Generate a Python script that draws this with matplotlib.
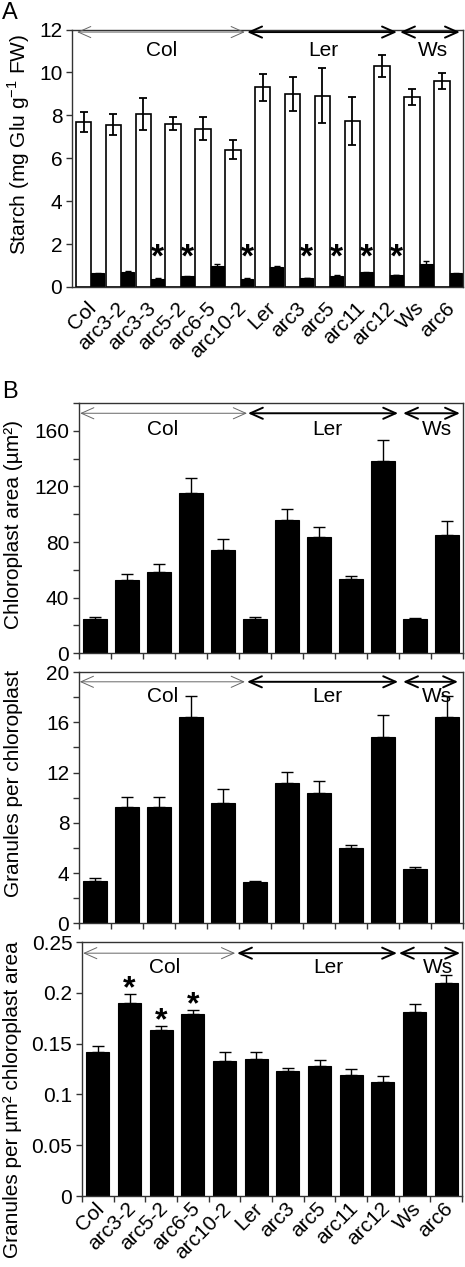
import matplotlib
matplotlib.use('Agg')
import matplotlib.pyplot as plt
import numpy as np
from matplotlib.ticker import MultipleLocator, FuncFormatter

plt.rcParams['font.family'] = ['Liberation Sans', 'DejaVu Sans']
plt.rcParams['mathtext.fontset'] = 'custom'
plt.rcParams['mathtext.rm'] = 'Liberation Sans'

# panel A: starch, end of day (white) and end of night (black)
lines_a = ['Col', 'arc3-2', 'arc3-3', 'arc5-2', 'arc6-5', 'arc10-2', 'Ler',
           'arc3', 'arc5', 'arc11', 'arc12', 'Ws', 'arc6']
starch_day = [7.70, 7.57, 8.08, 7.60, 7.37, 6.40, 9.30, 8.98, 8.92, 7.73, 10.29, 8.85, 9.62]
starch_day_err = [0.47, 0.50, 0.75, 0.30, 0.54, 0.44, 0.64, 0.80, 1.30, 1.13, 0.50, 0.36, 0.37]
starch_night = [0.63, 0.71, 0.38, 0.50, 0.96, 0.38, 0.95, 0.42, 0.53, 0.68, 0.56, 1.08, 0.64]
starch_night_err = [0.03, 0.03, 0.02, 0.02, 0.12, 0.02, 0.03, 0.02, 0.03, 0.04, 0.02, 0.12, 0.03]
stars_a = ['arc3-3', 'arc5-2', 'arc10-2', 'arc3', 'arc5', 'arc11', 'arc12']

# panel B
lines_b = ['Col', 'arc3-2', 'arc5-2', 'arc6-5', 'arc10-2', 'Ler',
           'arc3', 'arc5', 'arc11', 'arc12', 'Ws', 'arc6']
area = [24.8, 52.4, 58.8, 115.5, 74.5, 24.8, 96.0, 83.8, 53.3, 138.6, 24.8, 84.8]
area_err = [1.5, 4.5, 5.5, 10.7, 7.6, 1.5, 8.0, 7.0, 2.4, 14.5, 0.8, 10.0]
granules = [3.40, 9.28, 9.28, 16.4, 9.60, 3.32, 11.14, 10.40, 5.97, 14.85, 4.32, 16.4]
granules_err = [0.20, 0.80, 0.80, 1.67, 1.10, 0.05, 0.90, 0.95, 0.30, 1.75, 0.18, 1.70]
density = [0.1416, 0.1895, 0.1630, 0.1787, 0.1328, 0.1350, 0.1226, 0.1275, 0.1187, 0.1125, 0.1810, 0.2098]
density_err = [0.0060, 0.0095, 0.0045, 0.0043, 0.0085, 0.0063, 0.0034, 0.0063, 0.0059, 0.0059, 0.0080, 0.0076]
stars_b = ['arc3-2', 'arc5-2', 'arc6-5']

group_names = ['Col', 'Ler', 'Ws']

fig = plt.figure(figsize=(4.65, 12.67), dpi=100)
W, H = 465.0, 1267.0
TICK = 15
LABEL = 15
XLAB = 15


def add_ax(left, top, right, bottom):
    return fig.add_axes([left / W, 1 - bottom / H, (right - left) / W, (bottom - top) / H])


def frame(ax):
    for s in ax.spines.values():
        s.set_color('#333333')
        s.set_linewidth(1.0)
    ax.tick_params(axis='y', direction='out', length=4, width=1, labelsize=TICK,
                   color='#333333', pad=3)


def group_arrows(ax, spans, y_arrow, y_text, text_x):
    for i, (x0, x1) in enumerate(spans):
        thin = i == 0
        ax.annotate('', xy=(x0, y_arrow), xytext=(x1, y_arrow), xycoords='axes fraction',
                    arrowprops=dict(arrowstyle='<->,head_length=0.9,head_width=0.4',
                                    color='#666666' if thin else 'black',
                                    lw=0.7 if thin else 1.4, shrinkA=0, shrinkB=0,
                                    mutation_scale=10))
        ax.text(text_x[i], y_text, group_names[i], transform=ax.transAxes,
                ha='center', va='center', fontsize=15)


def star(ax, x, y, size=24):
    ax.annotate('*', xy=(x, y), xytext=(0, -0.57 * size), textcoords='offset points',
                ha='center', va='baseline', fontsize=size, fontweight='bold')


# ---- A
ax = add_ax(72, 29.5, 463, 287)
xa = np.arange(len(lines_a))
ax.bar(xa - 0.21, starch_day, width=0.52, color='white', edgecolor='black', linewidth=1.2)
ax.bar(xa + 0.265, starch_night, width=0.43, color='black', edgecolor='black', linewidth=0.8)
ax.errorbar(xa - 0.21, starch_day, yerr=starch_day_err, fmt='none', ecolor='black',
            elinewidth=1.3, capsize=3, capthick=1.3)
ax.errorbar(xa + 0.265, starch_night, yerr=starch_night_err, fmt='none', ecolor='black',
            elinewidth=1.0, capsize=2.5, capthick=1.0)
for name in stars_a:
    star(ax, lines_a.index(name) + 0.265, 1.82)
ax.set_xlim(-0.6, 12.5)
ax.set_ylim(0, 12)
ax.set_yticks(np.arange(0, 13, 2))
ax.set_xticks(xa + 0.12)
ax.set_xticklabels(lines_a, rotation=45, ha='right', va='center', rotation_mode='anchor',
                   fontsize=XLAB)
ax.tick_params(axis='x', length=0, pad=13)
frame(ax)
ax.set_ylabel('Starch (mg Glu g$^{\\mathregular{-1}}$ FW)', fontsize=LABEL)
ax.yaxis.set_label_coords(-0.102, 0.555)
group_arrows(ax, [(0.013, 0.442), (0.448, 0.831), (0.839, 0.992)], 0.99, 0.92,
             [0.228, 0.642, 0.923])
fig.text(2 / W, 1 - 13 / H, 'A', fontsize=17, ha='left', va='center')

# ---- B panels
xb = np.arange(len(lines_b))
zeros = np.zeros(len(lines_b))


def panel_b(ax, vals, errs):
    ax.bar(xb, vals, width=0.72, color='black', edgecolor='black', linewidth=0.8)
    ax.errorbar(xb, vals, yerr=[zeros, errs], fmt='none', ecolor='black',
                elinewidth=1.0, capsize=4, capthick=1.0)
    ax.set_xlim(-0.5, 11.5)
    ax.set_xticks(np.arange(-0.5, 12, 1))
    ax.set_xticklabels([])
    ax.tick_params(axis='x', direction='out', length=4, width=1, color='#333333')
    frame(ax)


ax1 = add_ax(79, 403, 463, 653.3)
panel_b(ax1, area, area_err)
ax1.set_ylim(0, 180)
ax1.set_yticks([0, 40, 80, 120, 160])
ax1.yaxis.set_minor_locator(MultipleLocator(20))
ax1.tick_params(axis='y', which='minor', direction='out', length=4, width=1, color='#333333')
ax1.set_ylabel('Chloroplast area (µm²)', fontsize=LABEL)
ax1.yaxis.set_label_coords(-0.146, 0.513)
group_arrows(ax1, [(0.003, 0.4375), (0.44, 0.831), (0.844, 0.992)], 0.959, 0.896,
             [0.219, 0.646, 0.932])
fig.text(2 / W, 1 - 392 / H, 'B', fontsize=17, ha='left', va='center')

ax2 = add_ax(79, 672, 463, 923.3)
panel_b(ax2, granules, granules_err)
ax2.set_ylim(0, 20)
ax2.set_yticks([0, 4, 8, 12, 16, 20])
ax2.yaxis.set_minor_locator(MultipleLocator(2))
ax2.tick_params(axis='y', which='minor', direction='out', length=4, width=1, color='#333333')
ax2.set_ylabel('Granules per chloroplast', fontsize=LABEL)
ax2.yaxis.set_label_coords(-0.146, 0.558)
group_arrows(ax2, [(0.002, 0.432), (0.4375, 0.831), (0.844, 0.987)], 0.961, 0.902,
             [0.219, 0.646, 0.932])

ax3 = add_ax(82, 942, 462, 1196)
panel_b(ax3, density, density_err)
for name in stars_b:
    i = lines_b.index(name)
    star(ax3, i, density[i] + density_err[i] + 0.015, size=23)
ax3.set_ylim(0, 0.25)
ax3.set_yticks(np.arange(0, 0.26, 0.05))
ax3.yaxis.set_major_formatter(FuncFormatter(lambda v, p: '%g' % round(v, 2)))
ax3.set_xticks(xb + 0.12, minor=True)
ax3.set_xticklabels(lines_b, minor=True, rotation=45, ha='right', va='center',
                    rotation_mode='anchor', fontsize=XLAB)
ax3.tick_params(axis='x', which='minor', length=0, pad=7)
ax3.set_ylabel('Granules per µm² chloroplast area', fontsize=LABEL)
ax3.yaxis.set_label_coords(-0.158, 0.378)
group_arrows(ax3, [(0.003, 0.403), (0.408, 0.829), (0.834, 0.995)], 0.956, 0.898,
             [0.218, 0.647, 0.937])

fig.savefig('out.png', dpi=100)
